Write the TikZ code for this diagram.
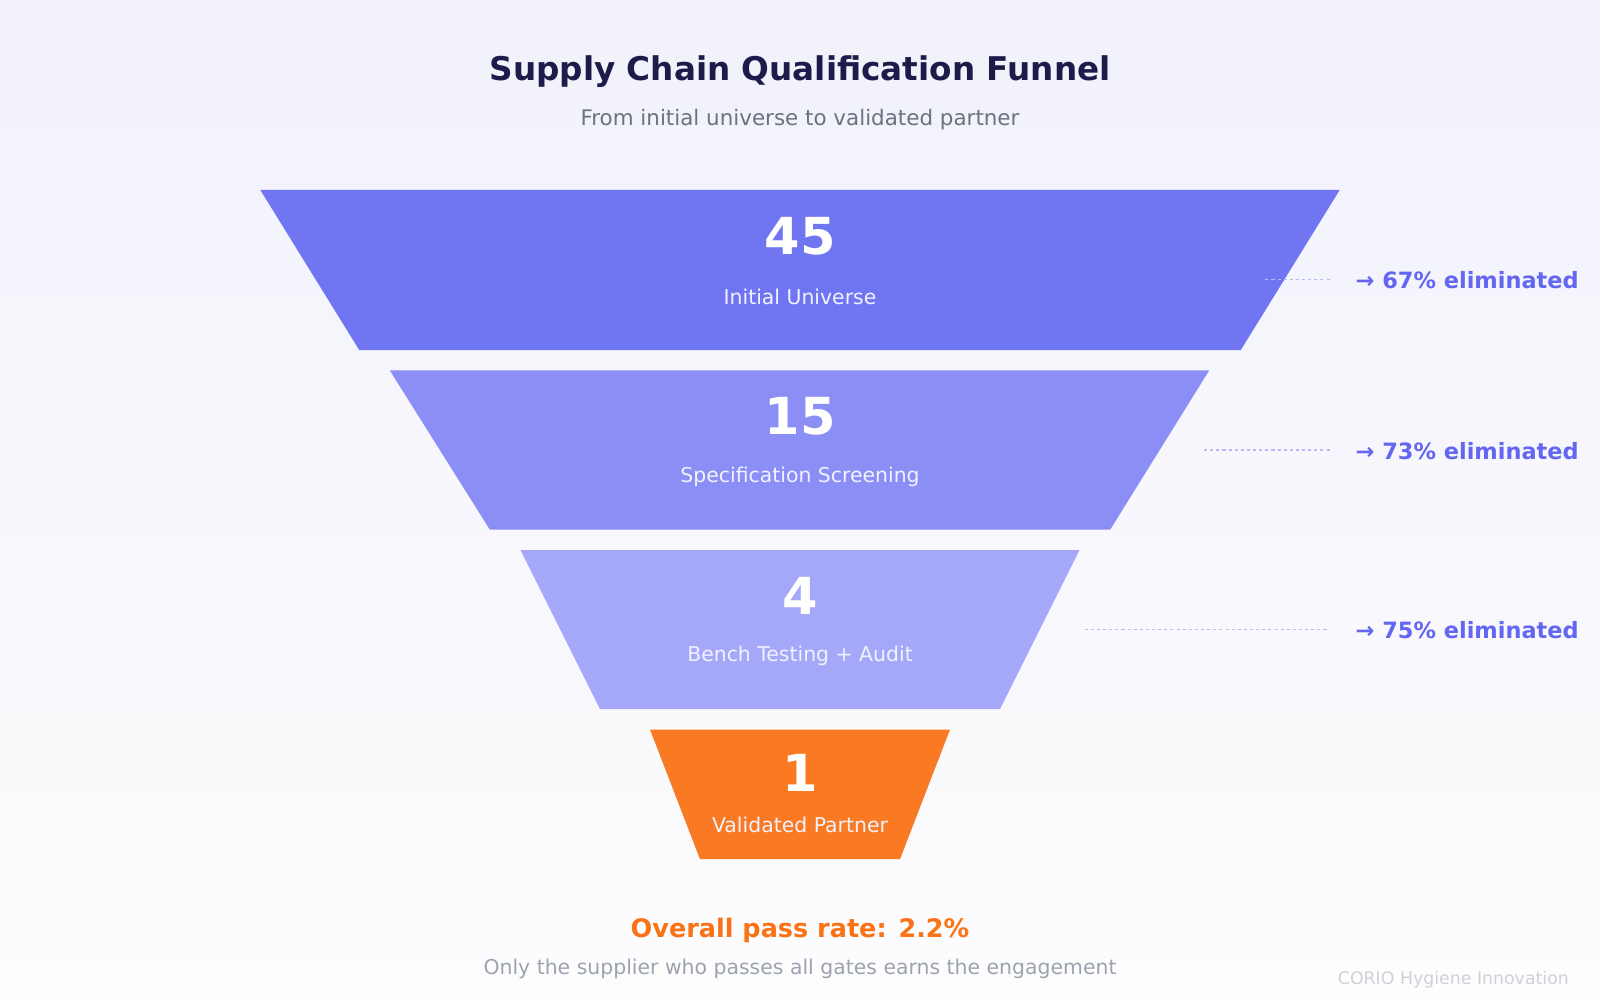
\documentclass[tikz,border=0pt]{standalone}
\usepackage{fontspec}
\setmainfont{DejaVu Sans}
\begin{document}
\begin{tikzpicture}[x=1pt,y=-1pt,
  num/.style={text=white,font=\fontsize{50}{60}\selectfont\bfseries,anchor=center},
  lbl/.style={text=white!95!blue,font=\fontsize{20}{24}\selectfont,anchor=center},
  elim/.style={text=elimc,font=\fontsize{22}{26}\selectfont\bfseries,anchor=west},
  dl/.style={draw=dashc,dashed,line width=1.2pt}]
\definecolor{bgtop}{HTML}{F1F1FB}
\definecolor{bgbot}{HTML}{FDFDFE}
\definecolor{t1}{HTML}{7075F2}
\definecolor{t2}{HTML}{8B8EF5}
\definecolor{t3}{HTML}{A5A8F8}
\definecolor{t4}{HTML}{F97A22}
\definecolor{elimc}{HTML}{6366F1}
\definecolor{dashc}{HTML}{B8BAF6}
\definecolor{titlec}{HTML}{1E1B4B}
\definecolor{subc}{HTML}{6B7280}
\definecolor{gray2}{HTML}{9CA3AF}
\definecolor{orangec}{HTML}{F97316}
\useasboundingbox (0,0) rectangle (1568,980);
\shade[top color=bgtop,bottom color=bgbot] (0,0) rectangle (1568,980);
\node[text=titlec,font=\fontsize{32}{38}\selectfont\bfseries] (title) at (784,70) {Supply Chain Qualification Funnel};
\node[text=subc,font=\fontsize{21}{25}\selectfont] (sub) at (784,117) {From initial universe to validated partner};
\fill[t1] (255,186) -- (1313,186) -- (1216,343) -- (352,343) -- cycle;
\fill[t2] (382,363) -- (1185,363) -- (1088,519) -- (480,519) -- cycle;
\fill[t3] (510,539) -- (1058,539) -- (980,695) -- (588,695) -- cycle;
\fill[t4] (637,715) -- (931,715) -- (882,842) -- (686,842) -- cycle;
\node[num] (n1) at (784,232) {45};
\node[lbl] (l1) at (784,291) {Initial Universe};
\node[num] (n2) at (784,408) {15};
\node[lbl] (l2) at (784,467) {Specification Screening};
\node[num] (n3) at (784,584) {4};
\node[lbl] (l3) at (784,643) {Bench Testing + Audit};
\node[num] (n4) at (784,757) {1};
\node[lbl] (l4) at (784,808) {Validated Partner};
\coordinate (d1a) at (1240,274); \coordinate (d1b) at (1303,274);
\coordinate (d2a) at (1180,441); \coordinate (d2b) at (1303,441);
\coordinate (d3a) at (1063,617); \coordinate (d3b) at (1303,617);
\draw[dl] (d1a) -- (d1b);
\draw[dl] (d2a) -- (d2b);
\draw[dl] (d3a) -- (d3b);
\node[elim] (e1) at (1325,275) {→ 67\% eliminated};
\node[elim] (e2) at (1325,442) {→ 73\% eliminated};
\node[elim] (e3) at (1325,618) {→ 75\% eliminated};
\node[text=orangec,font=\fontsize{25}{30}\selectfont\bfseries] (pass) at (784,912) {Overall pass rate: 2.2\%};
\node[text=gray2,font=\fontsize{20}{24}\selectfont] (only) at (784,949) {Only the supplier who passes all gates earns the engagement};
\node[text=gray2!50,font=\fontsize{17}{20}\selectfont,anchor=east] (corio) at (1541,960) {CORIO Hygiene Innovation};
\end{tikzpicture}
\end{document}
